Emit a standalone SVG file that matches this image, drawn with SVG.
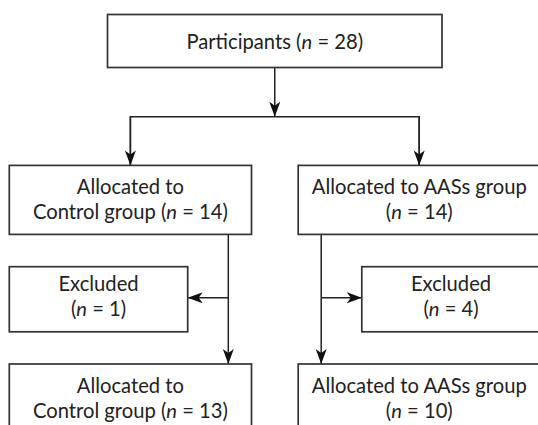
<svg xmlns="http://www.w3.org/2000/svg" width="538" height="425" viewBox="0 0 538 425">
<style>
.box{fill:#fff;stroke:#333;stroke-width:1.7}
.t{font-family:Lato,"Noto Sans",sans-serif;font-size:20.2px;fill:#222;text-anchor:middle}
.i{font-style:italic}
.c{fill:none;stroke:#222;stroke-width:1.5}
</style>
<defs>
<marker id="ah" markerUnits="userSpaceOnUse" markerWidth="16" markerHeight="12" refX="15" refY="5.5" orient="auto">
<path d="M0,0 L15,5.5 L0,11 L4,5.5 z" fill="#111"/>
</marker>
</defs>
<rect width="538" height="425" fill="#fff"/>
<g id="connectors">
<path class="c" d="M274.75,67.5 V116.7" marker-end="url(#ah)"/>
<path class="c" d="M130.4,165.4 V116.7 H419.2 V165.4"/>
<path class="c" d="M130.4,116.7 V165.4" marker-end="url(#ah)"/>
<path class="c" d="M419.2,116.7 V165.4" marker-end="url(#ah)"/>
<path class="c" d="M228.3,234.4 V364" marker-end="url(#ah)"/>
<path class="c" d="M228.3,297.8 H187.7" marker-end="url(#ah)"/>
<path class="c" d="M321.2,234.4 V364" marker-end="url(#ah)"/>
<path class="c" d="M321.2,297.8 H361.8" marker-end="url(#ah)"/>
</g>
<g id="participants">
<rect class="box" x="107.5" y="14.5" width="334.5" height="53"/>
<text class="t" x="274.75" y="48.5">Participants (<tspan class="i">n</tspan> = 28)</text>
</g>
<g id="control1">
<rect class="box" x="9.3" y="165.4" width="242.2" height="69"/>
<text class="t" x="130.4" y="194">Allocated to</text>
<text class="t" x="130.4" y="219">Control group (<tspan class="i">n</tspan> = 14)</text>
</g>
<g id="aass1">
<rect class="box" x="298.2" y="165.4" width="242.2" height="69"/>
<text class="t" x="419.3" y="194">Allocated to AASs group</text>
<text class="t" x="419.3" y="219">(<tspan class="i">n</tspan> = 14)</text>
</g>
<g id="excluded1">
<rect class="box" x="9.3" y="266.7" width="178.4" height="65.1"/>
<text class="t" x="98.5" y="291">Excluded</text>
<text class="t" x="98.5" y="316">(<tspan class="i">n</tspan> = 1)</text>
</g>
<g id="excluded4">
<rect class="box" x="361.8" y="266.7" width="178.4" height="65.1"/>
<text class="t" x="451" y="291">Excluded</text>
<text class="t" x="451" y="316">(<tspan class="i">n</tspan> = 4)</text>
</g>
<g id="control2">
<rect class="box" x="9.3" y="364" width="242.2" height="80"/>
<text class="t" x="130.4" y="393">Allocated to</text>
<text class="t" x="130.4" y="418">Control group (<tspan class="i">n</tspan> = 13)</text>
</g>
<g id="aass2">
<rect class="box" x="298.2" y="364" width="242.2" height="80"/>
<text class="t" x="419.3" y="393">Allocated to AASs group</text>
<text class="t" x="419.3" y="418">(<tspan class="i">n</tspan> = 10)</text>
</g>
</svg>
